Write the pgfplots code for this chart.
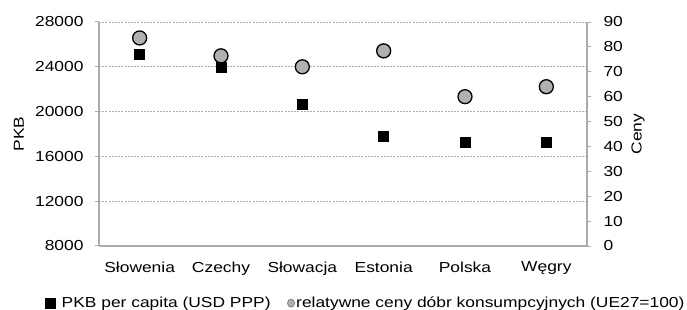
\documentclass[border=0pt]{standalone}
\usepackage{pgfplots}
\pgfplotsset{compat=1.18}
\usepackage{fontspec}
\setmainfont{Liberation Sans}[FakeStretch=1.2]
\definecolor{axgray}{HTML}{ABABAB}
\definecolor{gridgray}{HTML}{AFAFAF}
\definecolor{circfill}{HTML}{B0B0B0}
\newcommand{\chartfont}{\fontsize{14.5bp}{17bp}\selectfont}
\pgfplotsset{
  common/.style={
    at={(0,0)}, anchor=south west,
    scale only axis, width=488bp, height=224bp,
    xmin=-0.5, xmax=5.5,
    tick align=outside,
    major tick length=4bp,
    axis line style={axgray, line width=1.1bp},
    tick style={axgray, line width=1bp},
    ticklabel style={font=\chartfont, text=black},
    label style={font=\chartfont, text=black},
    scaled y ticks=false,
    /pgf/number format/assume math mode=true,
    /pgf/number format/1000 sep={},
    clip=false,
  }
}
\begin{document}
\begin{tikzpicture}
\path[use as bounding box] (-99bp,-64bp) rectangle (588bp,246bp);
\begin{axis}[common,
  axis y line*=left, axis x line*=bottom,
  ymin=8000, ymax=28000,
  ytick={8000,12000,16000,20000,24000,28000},
  ymajorgrids,
  grid style={gridgray, line width=0.8bp, dash pattern=on 2bp off 1.2bp},
  xtick={0,1,2,3,4,5},
  xticklabels={Słowenia,Czechy,Słowacja,Estonia,Polska,Węgry},
  xtick style={draw=none},
  extra x ticks={-0.5,0.5,1.5,2.5,3.5,4.5,5.5},
  extra x tick labels={},
  extra x tick style={tick style={axgray, line width=1bp}, grid=none},
  xticklabel style={yshift=-8bp},
  yticklabel style={xshift=-8bp},
  ylabel={PKB},
  ylabel style={at={(axis description cs:-0.164,0.5)}, anchor=center},
]
\addplot[only marks, mark=square*, mark size=5bp, mark options={fill=black, draw=black}]
  coordinates {(0,25100) (1,24000) (2,20700) (3,17800) (4,17300) (5,17300)};
\end{axis}
\begin{axis}[common,
  axis y line*=right, axis x line=none,
  ymin=0, ymax=90,
  ytick={0,10,...,90},
  yticklabel style={xshift=9bp, anchor=west},
  ylabel={Ceny},
  ylabel style={at={(axis description cs:1.1045,0.5)}, anchor=center, rotate=0},
  legend columns=2,
  legend style={draw=none, fill=none, font=\chartfont, at={(axis description cs:-0.111,-0.255)}, anchor=west,
    inner sep=0pt, outer sep=0pt,
    nodes={inner sep=0.5bp},
    /tikz/every even column/.append style={column sep=16bp}},
]
\addlegendimage{legend image code/.code={\fill[black] (0bp,-5bp) rectangle (10bp,5bp); \path (16bp,0);}}
\addlegendentry{PKB per capita (USD PPP)}
\addplot[only marks, mark=*, mark size=7bp, mark options={fill=circfill, draw=black, line width=1.3bp},
  legend image code/.code={\draw[fill=circfill, draw=gray, line width=0.8bp] (3.5bp,0) ellipse (3.5bp and 4bp); \path (8bp,0);}]
  coordinates {(0,83.6) (1,76.4) (2,72) (3,78.4) (4,60) (5,64)};
\addlegendentry{relatywne ceny dóbr konsumpcyjnych (UE27=100)}
\end{axis}
\end{tikzpicture}
\end{document}
